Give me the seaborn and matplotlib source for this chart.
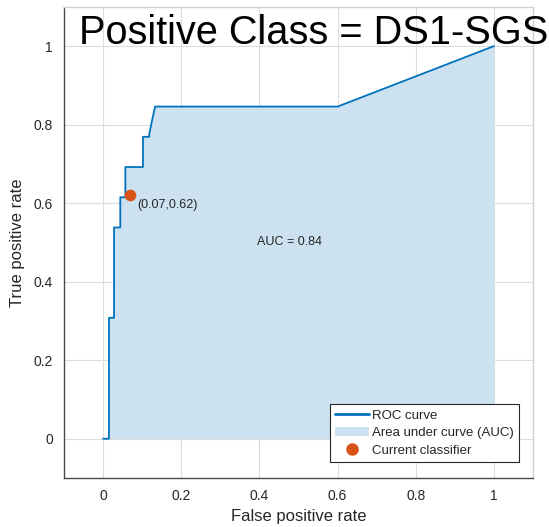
import matplotlib
matplotlib.use("Agg")
import matplotlib.pyplot as plt
import seaborn as sns
import pandas as pd
from matplotlib.lines import Line2D
from matplotlib.patches import Patch

# ROC curve vertices (false positive rate, true positive rate)
fpr = [0.0, 0.015, 0.015, 0.028, 0.028, 0.044, 0.044, 0.057, 0.057, 0.102,
       0.102, 0.118, 0.118, 0.121, 0.123, 0.133, 0.6, 1.0]
tpr = [0.0, 0.0, 0.308, 0.308, 0.538, 0.538, 0.615, 0.615, 0.692, 0.692,
       0.769, 0.769, 0.775, 0.79, 0.80, 0.846, 0.846, 1.0]

# Operating point of the current classifier
current_fpr = [0.07]
current_tpr = [0.62]
auc_value = 0.84

ticks = [0, 0.2, 0.4, 0.6, 0.8, 1]
tick_labels = ["0", "0.2", "0.4", "0.6", "0.8", "1"]

line_color = "#0072BD"
fill_color = "#CCE2F0"
point_color = "#D95319"
text_color = "#262626"

sns.set_theme(style="white")
plt.rcParams["font.family"] = ["Liberation Sans", "DejaVu Sans"]

fig = plt.figure(figsize=(5.49, 5.27), dpi=100)
ax = fig.add_axes([0.1166, 0.093, 0.8543, 0.894])

roc = pd.DataFrame({"fpr": fpr, "tpr": tpr})
cur = pd.DataFrame({"fpr": current_fpr, "tpr": current_tpr})

ax.fill_between(roc["fpr"], 0, roc["tpr"], color=fill_color, linewidth=0, zorder=1)
sns.lineplot(data=roc, x="fpr", y="tpr", sort=False, estimator=None,
             color=line_color, linewidth=1.3, ax=ax, zorder=3)
sns.scatterplot(data=cur, x="fpr", y="tpr", color=point_color, s=70,
                edgecolor=point_color, linewidth=0, ax=ax, zorder=4)

ax.text(current_fpr[0] + 0.018, current_tpr[0] - 0.025,
        f"({current_fpr[0]:.2f},{current_tpr[0]:.2f})",
        fontsize=9, color=text_color, va="center", ha="left", zorder=5)
ax.text(0.477, 0.5, f"AUC = {auc_value:.2f}", fontsize=9, color=text_color,
        va="center", ha="center", zorder=5)

ax.set_xlim(-0.1, 1.1)
ax.set_ylim(-0.1, 1.1)
ax.set_xticks(ticks)
ax.set_xticklabels(tick_labels)
ax.set_yticks(ticks)
ax.set_yticklabels(tick_labels)
ax.tick_params(axis="both", direction="in", length=4, width=0.8,
               colors="#404040", labelcolor=text_color, labelsize=10, pad=8)
ax.grid(True, color="#dcdcdc", linewidth=0.8, zorder=0)
ax.set_axisbelow(True)
for side in ["left", "bottom", "right", "top"]:
    ax.spines[side].set_visible(True)
    ax.spines[side].set_color("#4a4a4a" if side in ("left", "bottom") else "#d0d0d0")
    ax.spines[side].set_linewidth(1.0)

ax.set_xlabel("False positive rate", fontsize=12, color=text_color, labelpad=4)
ax.set_ylabel("True positive rate", fontsize=12, color=text_color, labelpad=6)

handles = [
    Line2D([0], [0], color=line_color, linewidth=2),
    Patch(facecolor=fill_color, edgecolor="none"),
    Line2D([0], [0], marker="o", linestyle="none", color=point_color,
           markersize=8),
]
labels = ["ROC curve", "Area under curve (AUC)", "Current classifier"]
leg = ax.legend(handles, labels, loc="lower right", bbox_to_anchor=(0.970, 0.034),
                fontsize=9.5, frameon=True, fancybox=False, framealpha=1,
                edgecolor="#262626", handlelength=2.6, handletextpad=0.2,
                borderpad=0.4, labelspacing=0.4, borderaxespad=0)
leg.get_frame().set_linewidth(0.8)
for t in leg.get_texts():
    t.set_color(text_color)

fig.text(0.571, 0.937, "Positive Class = DS1-SGS", fontsize=28.6, color="black",
         ha="center", va="center", zorder=10)

fig.savefig("out.png", dpi=100, facecolor="white")
